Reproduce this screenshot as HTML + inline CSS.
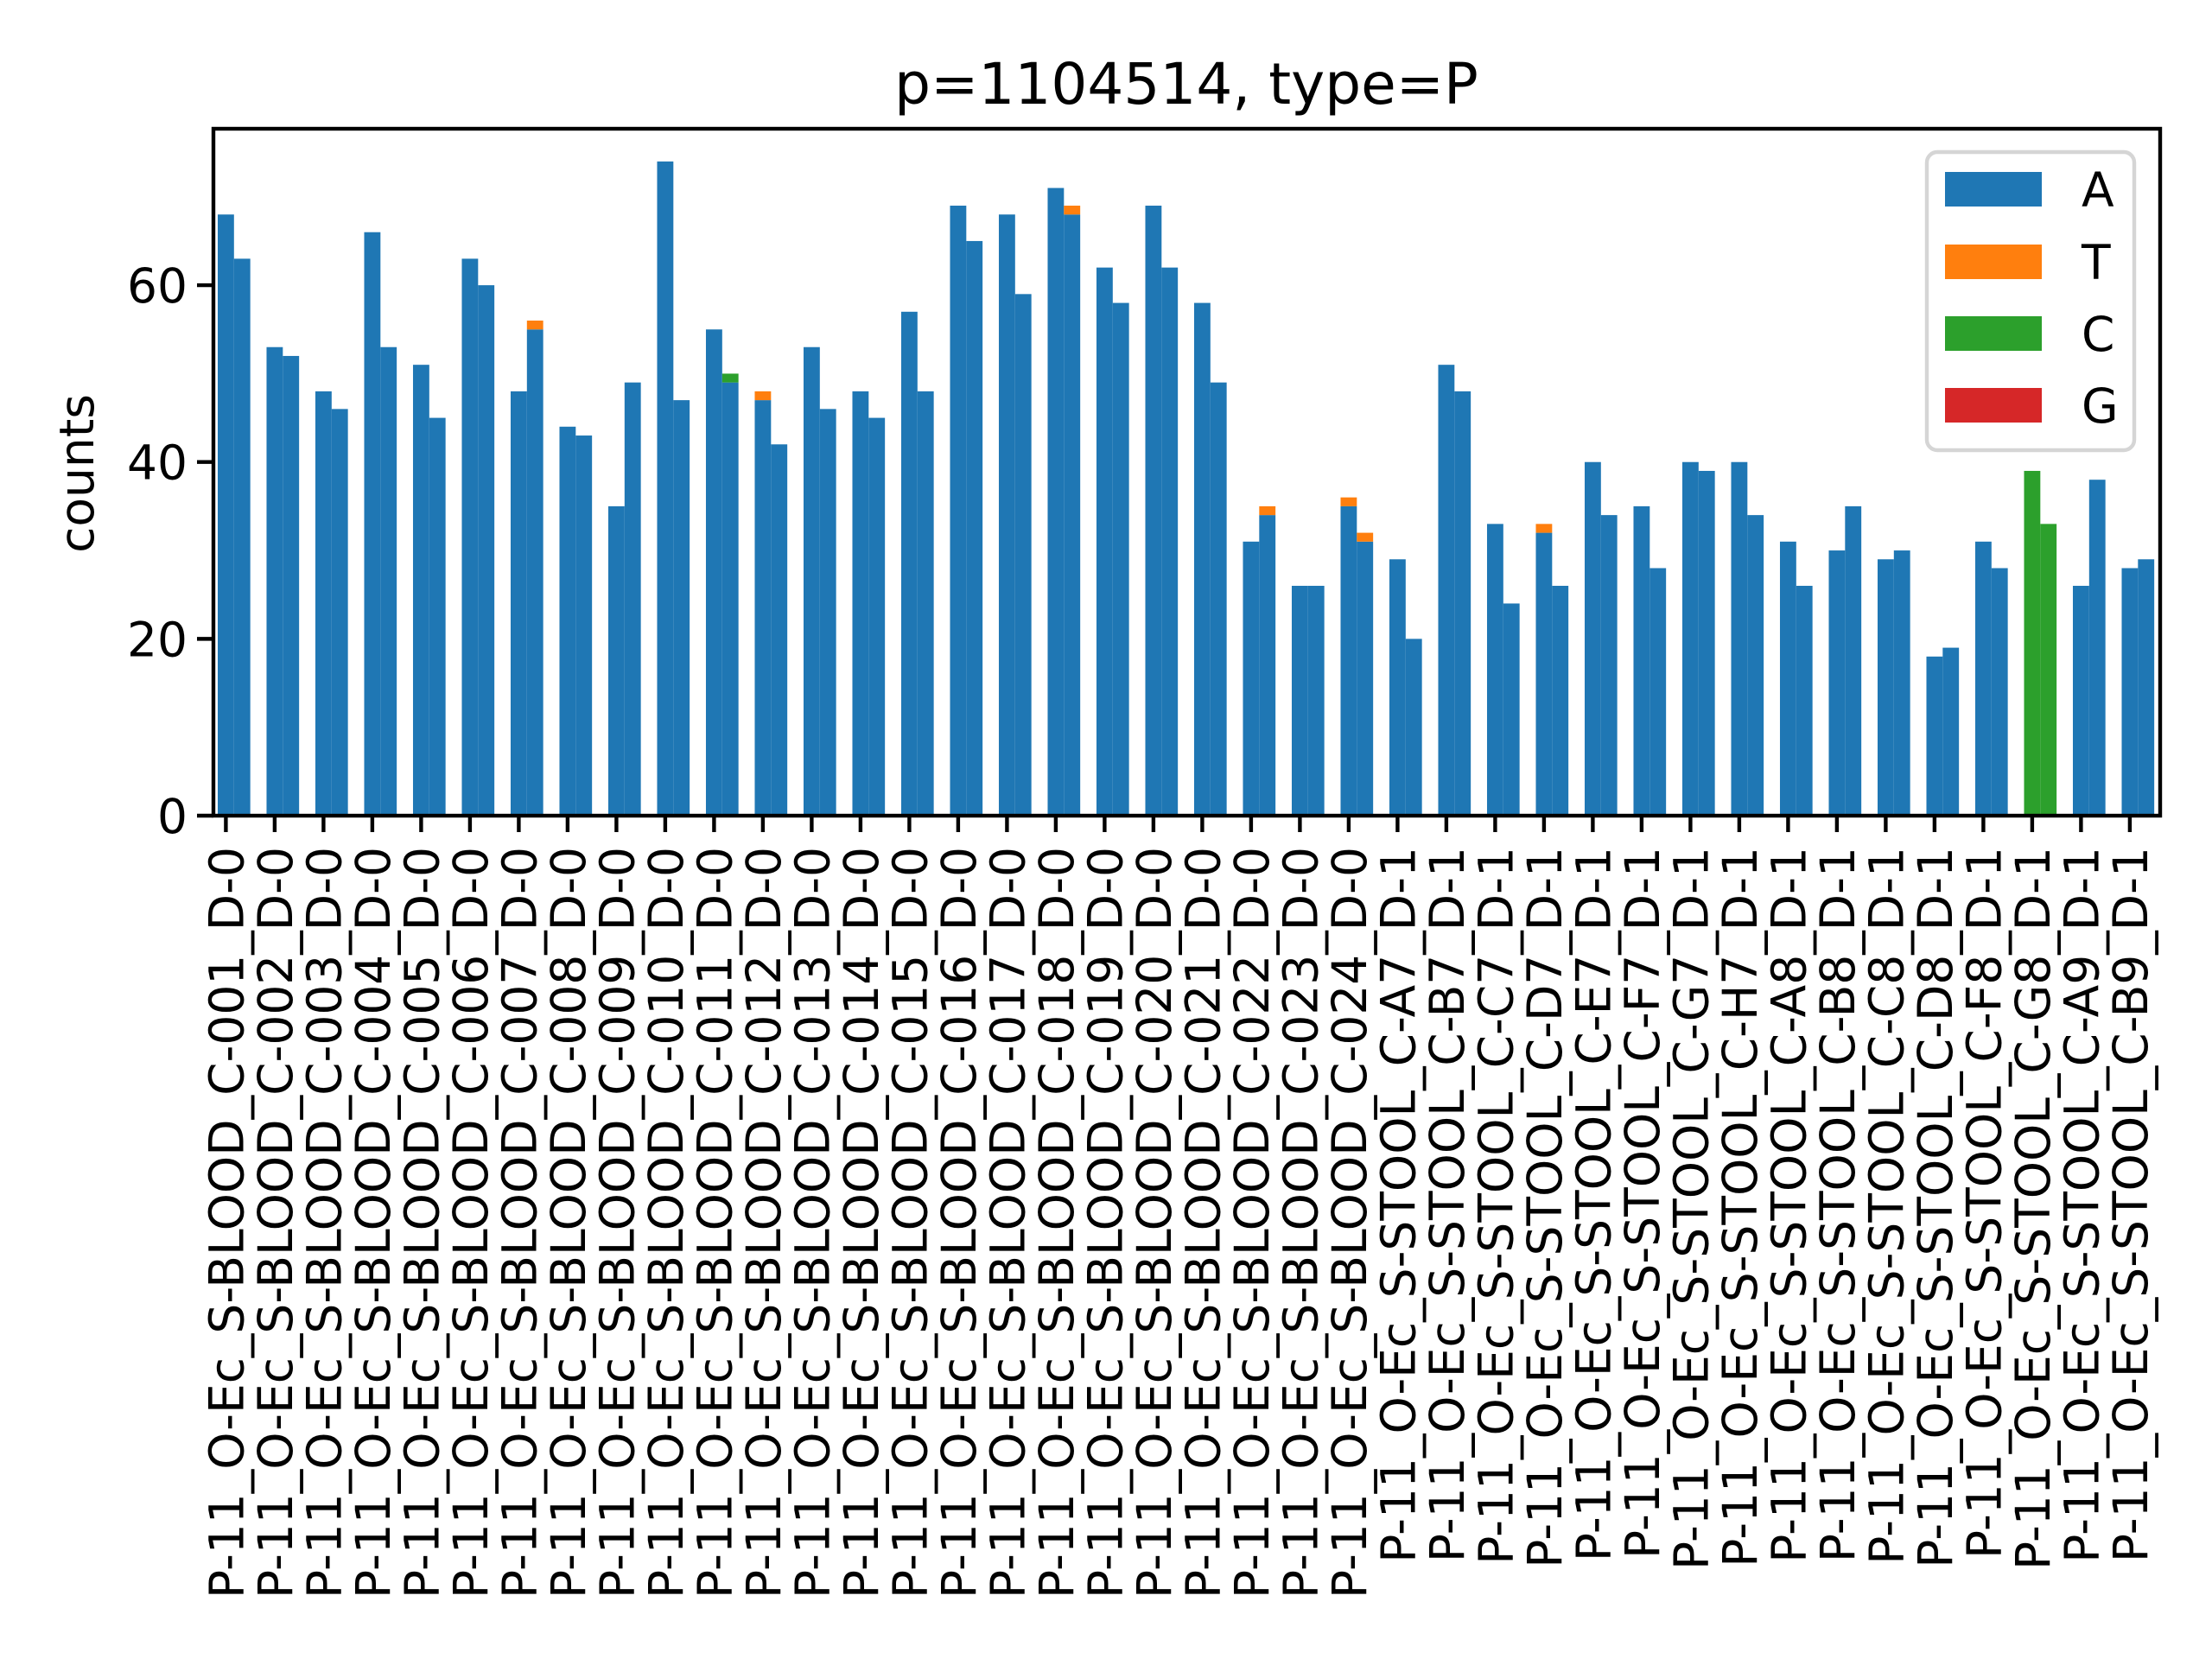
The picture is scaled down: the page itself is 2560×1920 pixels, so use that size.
<!DOCTYPE html>
<html><head><meta charset="utf-8"><style>
html,body{margin:0;padding:0;background:#fff;}
svg{display:block;font-family:"DejaVu Sans","Liberation Sans",sans-serif;}
</style></head><body>
<svg id="chart" width="2560" height="1920" viewBox="0 0 2560 1920" xmlns="http://www.w3.org/2000/svg">
<rect width="2560" height="1920" fill="#fff"/>
<text x="1373" y="120" font-size="66" text-anchor="middle">p=1104514, type=P</text>
<text transform="translate(108,548) rotate(-90)" font-size="55" text-anchor="middle">counts</text>
<g id="bars"></g>
<g id="axes"></g>
<g id="legend"></g>
</svg>
<script>
const categories = ["P-11_O-Ec_S-BLOOD_C-001_D-0","P-11_O-Ec_S-BLOOD_C-002_D-0","P-11_O-Ec_S-BLOOD_C-003_D-0","P-11_O-Ec_S-BLOOD_C-004_D-0","P-11_O-Ec_S-BLOOD_C-005_D-0","P-11_O-Ec_S-BLOOD_C-006_D-0","P-11_O-Ec_S-BLOOD_C-007_D-0","P-11_O-Ec_S-BLOOD_C-008_D-0","P-11_O-Ec_S-BLOOD_C-009_D-0","P-11_O-Ec_S-BLOOD_C-010_D-0","P-11_O-Ec_S-BLOOD_C-011_D-0","P-11_O-Ec_S-BLOOD_C-012_D-0","P-11_O-Ec_S-BLOOD_C-013_D-0","P-11_O-Ec_S-BLOOD_C-014_D-0","P-11_O-Ec_S-BLOOD_C-015_D-0","P-11_O-Ec_S-BLOOD_C-016_D-0","P-11_O-Ec_S-BLOOD_C-017_D-0","P-11_O-Ec_S-BLOOD_C-018_D-0","P-11_O-Ec_S-BLOOD_C-019_D-0","P-11_O-Ec_S-BLOOD_C-020_D-0","P-11_O-Ec_S-BLOOD_C-021_D-0","P-11_O-Ec_S-BLOOD_C-022_D-0","P-11_O-Ec_S-BLOOD_C-023_D-0","P-11_O-Ec_S-BLOOD_C-024_D-0","P-11_O-Ec_S-STOOL_C-A7_D-1","P-11_O-Ec_S-STOOL_C-B7_D-1","P-11_O-Ec_S-STOOL_C-C7_D-1","P-11_O-Ec_S-STOOL_C-D7_D-1","P-11_O-Ec_S-STOOL_C-E7_D-1","P-11_O-Ec_S-STOOL_C-F7_D-1","P-11_O-Ec_S-STOOL_C-G7_D-1","P-11_O-Ec_S-STOOL_C-H7_D-1","P-11_O-Ec_S-STOOL_C-A8_D-1","P-11_O-Ec_S-STOOL_C-B8_D-1","P-11_O-Ec_S-STOOL_C-C8_D-1","P-11_O-Ec_S-STOOL_C-D8_D-1","P-11_O-Ec_S-STOOL_C-F8_D-1","P-11_O-Ec_S-STOOL_C-G8_D-1","P-11_O-Ec_S-STOOL_C-A9_D-1","P-11_O-Ec_S-STOOL_C-B9_D-1"];
// first bar of each pair
const a1 = [68,53,48,66,51,63,48,44,35,74,55,47,53,48,57,69,68,71,62,69,58,31,26,35,29,51,33,32,40,35,40,40,31,30,29,18,31,0,26,28];
const t1 = [0,0,0,0,0,0,0,0,0,0,0,1,0,0,0,0,0,0,0,0,0,0,0,1,0,0,0,1,0,0,0,0,0,0,0,0,0,0,0,0];
const c1 = [0,0,0,0,0,0,0,0,0,0,0,0,0,0,0,0,0,0,0,0,0,0,0,0,0,0,0,0,0,0,0,0,0,0,0,0,0,39,0,0];
const g1 = [0,0,0,0,0,0,0,0,0,0,0,0,0,0,0,0,0,0,0,0,0,0,0,0,0,0,0,0,0,0,0,0,0,0,0,0,0,0,0,0];
// second bar of each pair
const a2 = [63,52,46,53,45,60,55,43,49,47,49,42,46,45,48,65,59,68,58,62,49,34,26,31,20,48,24,26,34,28,39,34,26,35,30,19,28,0,38,29];
const t2 = [0,0,0,0,0,0,1,0,0,0,0,0,0,0,0,0,0,1,0,0,0,1,0,1,0,0,0,0,0,0,0,0,0,0,0,0,0,0,0,0];
const c2 = [0,0,0,0,0,0,0,0,0,0,1,0,0,0,0,0,0,0,0,0,0,0,0,0,0,0,0,0,0,0,0,0,0,0,0,0,0,33,0,0];
const g2 = [0,0,0,0,0,0,0,0,0,0,0,0,0,0,0,0,0,0,0,0,0,0,0,0,0,0,0,0,0,0,0,0,0,0,0,0,0,0,0,0];
const seriesNames = ["A","T","C","G"];
const yTicks = [0,20,40,60];

const NS = "http://www.w3.org/2000/svg";
const colors = ["#1f77b4","#ff7f0e","#2ca02c","#d62728"];
const L = 247, R = 2500, T = 149, B = 944, yMax = 77.7;
const x0 = 261.4, unit = 56.5, bw = unit/3;
function xPos(i){ return x0 + i*unit; }
function yPos(v){ return B - (B-T)*v/yMax; }
function mk(tag, attrs, parent){ const e=document.createElementNS(NS,tag); for(const k in attrs) e.setAttribute(k,attrs[k]); parent.appendChild(e); return e; }

const barsG = document.getElementById('bars');
const groups = [[a1,t1,c1,g1],[a2,t2,c2,g2]];
groups.forEach((g, gi) => {
  categories.forEach((cat, i) => {
    let base = 0;
    const left = xPos(i) - bw/2 + gi*bw;
    g.forEach((arr, si) => {
      const v = arr[i];
      if (v > 0) {
        const r = mk('rect', {x:left, y:yPos(base+v), width:bw, height:yPos(base)-yPos(base+v), fill:colors[si]}, barsG);
        
        
        base += v;
      }
    });
  });
});

const ax = document.getElementById('axes');
const frame = mk('rect', {x:L, y:T, width:R-L, height:B-T, fill:'none', stroke:'#000', 'stroke-width':4.4}, ax);


yTicks.forEach(v => {
  const y = yPos(v);
  const tk = mk('line', {x1:L-19, x2:L, y1:y, y2:y, stroke:'#000', 'stroke-width':4.4}, ax);
  
  
  const t = mk('text', {x:L-30, y:y+20, 'font-size':55, 'text-anchor':'end'}, ax);
  t.textContent = v;
  
  
});
categories.forEach((cat, i) => {
  const x = xPos(i);
  const tk = mk('line', {x1:x, x2:x, y1:B, y2:B+19, stroke:'#000', 'stroke-width':4.4}, ax);
  
  
  const t = mk('text', {transform:'translate('+(x+20)+',980) rotate(-90)', 'font-size':55, 'text-anchor':'end'}, ax);
  t.textContent = cat;
  
  
});

const lg = document.getElementById('legend');
const box = mk('rect', {x:2230, y:176, width:240, height:345, rx:12, fill:'#fff', 'fill-opacity':0.8, stroke:'#d5d5d5', 'stroke-width':4.4}, lg);


const rowsY = [219,303,386,469];
seriesNames.forEach((n, si) => {
  const p = mk('rect', {x:2251, y:rowsY[si]-20, width:112, height:40, fill:colors[si]}, lg);
  
  
  const t = mk('text', {x:2409, y:rowsY[si]+20, 'font-size':55}, lg);
  t.textContent = n;
  
  
});
</script>
</body></html>
